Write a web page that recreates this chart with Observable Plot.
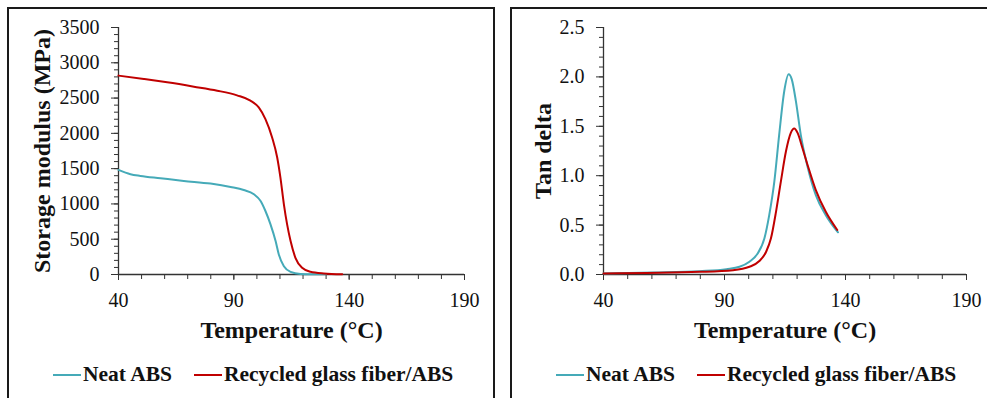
<!DOCTYPE html>
<html>
<head>
<meta charset="utf-8">
<script src="https://cdn.jsdelivr.net/npm/d3@7"></script>
<script src="https://cdn.jsdelivr.net/npm/@observablehq/plot@0.6"></script>
<style>
  html, body { margin: 0; padding: 0; background: #fff; }
  #page { position: relative; width: 987px; height: 398px; overflow: hidden; font-family: "Liberation Serif", "Times New Roman", serif; }
  #page svg, #page svg text { font-family: "Liberation Serif", "Times New Roman", serif; }
  .panel { position: absolute; top: 7px; height: 400px; box-sizing: border-box; border: 2px solid #1a1a1a; border-bottom: none; z-index: 2; pointer-events: none; }
  .chart { position: absolute; top: 0; z-index: 1; }
  .legend { position: absolute; top: 362px; height: 24px; line-height: 24px; font-size: 21.5px; font-weight: bold; white-space: nowrap; color: #111; }
  .legend .item { display: inline-block; margin-right: 22px; }
  .legend .sw { display: inline-block; width: 28px; height: 2px; vertical-align: middle; margin-right: 2px; position: relative; top: -1px; }
</style>
</head>
<body>
<div id="page">
  <div class="panel" style="left:7px; width:488px;"></div>
  <div class="panel" style="left:510px; width:600px;"></div>
</div>
<script>
// Series names and colours
const seriesNames = ["Neat ABS", "Recycled glass fiber/ABS"];
const seriesColors = ["#45aab8", "#c00000"];

// Storage modulus (MPa) vs temperature (°C)
const neatTempE = [40, 45.2, 49.5, 58.2, 68.3, 79.9, 88.6, 94.3, 98.7, 101.6, 103.7, 105.9, 108.1, 109.5, 111.7, 114.6, 118.9, 124, 130];
const neatE     = [1482, 1421, 1397, 1364, 1326, 1288, 1241, 1198, 1137, 1042, 900, 710, 474, 284, 118, 38, 8, 3, 2];
const rgfTempE  = [40, 51, 61.1, 72.7, 82.8, 91.4, 97.2, 100.8, 103.7, 106.6, 108.8, 110.2, 111.7, 113.1, 114.6, 116.7, 119.6, 123.2, 129, 137];
const rgfE      = [2818, 2770, 2723, 2662, 2605, 2538, 2463, 2368, 2202, 1942, 1658, 1373, 995, 710, 474, 237, 95, 38, 14, 3];

// Tan delta vs temperature (°C)
const neatTempT = [40, 60.7, 79.8, 90.8, 96.2, 100.3, 103.7, 106.5, 108.5, 110.6, 112.6, 114.7, 116.5, 117.8, 119.5, 121.5, 124.3, 127.7, 131.8, 136.9];
const neatTan   = [0.01, 0.02, 0.034, 0.054, 0.078, 0.129, 0.213, 0.366, 0.603, 0.942, 1.416, 1.857, 2.026, 1.975, 1.755, 1.416, 1.094, 0.806, 0.603, 0.427];
const rgfTempT  = [40, 79.8, 93.5, 100.3, 104.4, 107.2, 109.2, 111.3, 113.3, 115.4, 117.4, 118.8, 120.2, 122.2, 124.3, 127.7, 131.8, 136.6];
const rgfTan    = [0.01, 0.027, 0.044, 0.078, 0.136, 0.23, 0.366, 0.637, 0.942, 1.247, 1.433, 1.477, 1.433, 1.28, 1.111, 0.857, 0.637, 0.45];

// Axis ticks
const tempTicks = [40, 90, 140, 190];
const tempMinor = d3.range(40, 191, 10);
const modTicks = [0, 500, 1000, 1500, 2000, 2500, 3000, 3500];
const modMinor = d3.range(0, 3501, 100);
const tanTicks = [0, 0.5, 1.0, 1.5, 2.0, 2.5];
const tanMinor = d3.range(0, 26).map(i => i / 10);

const xTitle = "Temperature (°C)";
const yTitleE = "Storage modulus (MPa)";
const yTitleT = "Tan delta";

const toRows = (xs, ys, s) => xs.map((x, i) => ({x, y: ys[i], s}));
const dataE = [...toRows(neatTempE, neatE, seriesNames[0]), ...toRows(rgfTempE, rgfE, seriesNames[1])];
const dataT = [...toRows(neatTempT, neatTan, seriesNames[0]), ...toRows(rgfTempT, rgfTan, seriesNames[1])];

function panel({data, width, marginLeft, marginRight, yDomain, yTicks, yMinor, yFormat, yTitle, yTitleDx}) {
  return Plot.plot({
    width, height: 350,
    marginLeft, marginRight, marginTop: 27, marginBottom: 76,
    style: {background: "none", fontFamily: "'Liberation Serif', 'Times New Roman', serif", fontSize: "20px", color: "#111", overflow: "visible"},
    x: {domain: [40, 190]},
    y: {domain: yDomain},
    color: {domain: seriesNames, range: seriesColors},
    marks: [
      Plot.axisX({ticks: tempMinor, tickSize: 5, tickFormat: () => "", stroke: "#333", label: null}),
      Plot.axisX({ticks: tempTicks, tickSize: 6, tickPadding: 12, tickFormat: d => String(d), stroke: "#333", fill: "#111", label: null}),
      Plot.axisY({ticks: yMinor, tickSize: 4, tickFormat: () => "", stroke: "#333", label: null}),
      Plot.axisY({ticks: yTicks, tickSize: 7, tickPadding: 12, tickFormat: yFormat, stroke: "#333", fill: "#111", label: null}),
      Plot.ruleY([yDomain[0]], {stroke: "#333", strokeWidth: 1.3}),
      Plot.ruleX([40], {stroke: "#333", strokeWidth: 1.3}),
      Plot.line(data, {x: "x", y: "y", z: "s", stroke: "s", strokeWidth: 2, curve: "monotone-x"}),
      Plot.text([xTitle], {frameAnchor: "bottom", dy: 63, lineAnchor: "bottom", textAnchor: "middle", fontSize: 24, fontWeight: "bold", fill: "#111"}),
      Plot.text([yTitle], {frameAnchor: "left", dx: yTitleDx, rotate: -90, lineAnchor: "bottom", textAnchor: "middle", fontSize: 24, fontWeight: "bold", fill: "#111"})
    ]
  });
}

const page = document.getElementById("page");

const left = panel({data: dataE, width: 495, marginLeft: 118, marginRight: 31, yDomain: [0, 3500], yTicks: modTicks, yMinor: modMinor, yFormat: d => String(d), yTitle: yTitleE, yTitleDx: -69});
left.classList.add("chart");
left.style.left = "0px";
page.appendChild(left);

const right = panel({data: dataT, width: 492, marginLeft: 108, marginRight: 21, yDomain: [0, 2.5], yTicks: tanTicks, yMinor: tanMinor, yFormat: d => d.toFixed(1), yTitle: yTitleT, yTitleDx: -53});
right.classList.add("chart");
right.style.left = "495px";
page.appendChild(right);

// Legends under each chart
function legend(x) {
  const div = document.createElement("div");
  div.className = "legend";
  div.style.left = x + "px";
  seriesNames.forEach((name, i) => {
    const item = document.createElement("span");
    item.className = "item";
    const sw = document.createElement("span");
    sw.className = "sw";
    sw.style.background = seriesColors[i];
    item.appendChild(sw);
    item.appendChild(document.createTextNode(name));
    div.appendChild(item);
  });
  page.appendChild(div);
}
legend(53);
legend(556);
</script>
</body>
</html>
